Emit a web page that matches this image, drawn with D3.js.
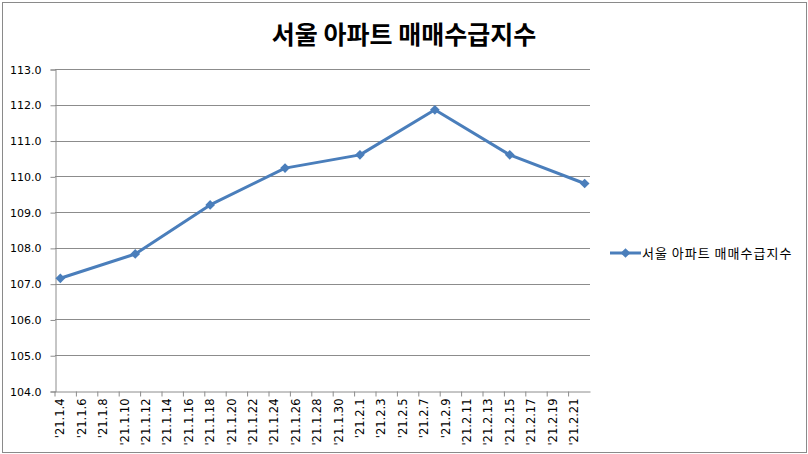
<!DOCTYPE html>
<html>
<head>
<meta charset="utf-8">
<script src="https://cdn.jsdelivr.net/npm/d3@7"></script>
<style>
  body { margin: 0; background: #fff; }
  svg { display: block; font-family: "Noto Sans CJK KR", "DejaVu Sans", sans-serif; }
</style>
</head>
<body>
<script>
// series
let seriesName = '서울 아파트 매매수급지수'
let dates = ["'21.1.4", "'21.1.11", "'21.1.18", "'21.1.25", "'21.2.1", "'21.2.8", "'21.2.15", "'21.2.22"]
let values = [107.15, 107.83, 109.2, 110.23, 110.6, 111.86, 110.6, 109.8]

// axis
let yTicks = [104, 105, 106, 107, 108, 109, 110, 111, 112, 113]
let xTickLabels = ["'21.1.4", "'21.1.6", "'21.1.8", "'21.1.10", "'21.1.12", "'21.1.14", "'21.1.16",
	"'21.1.18", "'21.1.20", "'21.1.22", "'21.1.24", "'21.1.26", "'21.1.28", "'21.1.30",
	"'21.2.1", "'21.2.3", "'21.2.5", "'21.2.7", "'21.2.9", "'21.2.11", "'21.2.13",
	"'21.2.15", "'21.2.17", "'21.2.19", "'21.2.21"]

let W = 808, H = 454
let BLUE = '#4a7ebb'
let GRID = '#8c8c8c'

let fmtDay = d3.timeFormat("'%y.%-m.%-d")
// every day on the date axis, from first to last point
let days = d3.timeDay.range(new Date(2021, 0, 4), new Date(2021, 1, 23)).map(fmtDay)

let svg = d3.select('body').append('svg').attr('width', W).attr('height', H)

svg.append('rect')
	.attr('x', 2.5).attr('y', 2.5).attr('width', W - 4).attr('height', H - 4)
	.attr('fill', '#fff').attr('stroke', '#8a8a8a').attr('stroke-width', 1)

let x0 = 55, x1 = 590, y0 = 69, y1 = 391

let x = d3.scaleBand().domain(days).range([x0, x1])
let y = d3.scaleLinear().domain([104, 113]).range([y1, y0])
let bw = x.bandwidth()

// title
svg.append('text')
	.attr('x', 404).attr('y', 44)
	.attr('text-anchor', 'middle')
	.style('font-size', '25px').style('font-weight', 'bold')
	.text(seriesName)

// gridlines
svg.append('g').selectAll('line').data(yTicks.slice(1)).join('line')
	.attr('x1', x0).attr('x2', x1)
	.attr('y1', d => Math.round(y(d)) + 0.5).attr('y2', d => Math.round(y(d)) + 0.5)
	.attr('stroke', GRID).attr('stroke-width', 1)

// y axis
let yAxis = svg.append('g')
	.attr('transform', `translate(${x0 + 0.5},0.5)`)
	.call(d3.axisLeft(y).tickValues(yTicks).tickFormat(d3.format('.1f')).tickSize(5).tickPadding(9))
yAxis.select('.domain').attr('stroke', GRID)
yAxis.selectAll('.tick line').attr('stroke', GRID)
yAxis.selectAll('.tick text').style('font-size', '11px').style('font-family', '"DejaVu Sans", sans-serif').attr('fill', '#000')

// x axis
let xAxis = svg.append('g')
	.attr('transform', `translate(0,${y1 + 0.5})`)
	.call(d3.axisBottom(x).tickValues(xTickLabels).tickSize(5).tickSizeOuter(0))
xAxis.select('.domain').attr('stroke', GRID)
xAxis.selectAll('.tick line').attr('stroke', GRID).attr('transform', `translate(${-bw / 2},0)`)
xAxis.selectAll('.tick text')
	.style('font-size', '11.5px').style('font-family', '"DejaVu Sans", sans-serif').attr('fill', '#000')
	.attr('text-anchor', 'end')
	.attr('transform', 'rotate(-90)')
	.attr('x', -7).attr('y', 0).attr('dy', '0.35em')

// line
let pts = dates.map((d, i) => [x(d) + bw / 2, y(values[i])])
svg.append('path')
	.attr('d', d3.line()(pts))
	.attr('fill', 'none').attr('stroke', BLUE).attr('stroke-width', 3)
	.attr('stroke-linejoin', 'round')

let diamond = d3.symbol().type(d3.symbolDiamond2).size(60)
svg.append('g').selectAll('path').data(pts).join('path')
	.attr('d', diamond)
	.attr('transform', d => `translate(${d[0]},${d[1]})`)
	.attr('fill', BLUE)

// legend
let lg = svg.append('g').attr('transform', 'translate(610,253)')
lg.append('line').attr('x1', 0).attr('x2', 31).attr('stroke', BLUE).attr('stroke-width', 3)
lg.append('path').attr('d', diamond).attr('transform', 'translate(15.5,0)').attr('fill', BLUE)
lg.append('text').attr('x', 32).attr('dy', '0.35em')
	.style('font-size', '13px').style('letter-spacing', '1px')
	.text(seriesName)
</script>
</body>
</html>
